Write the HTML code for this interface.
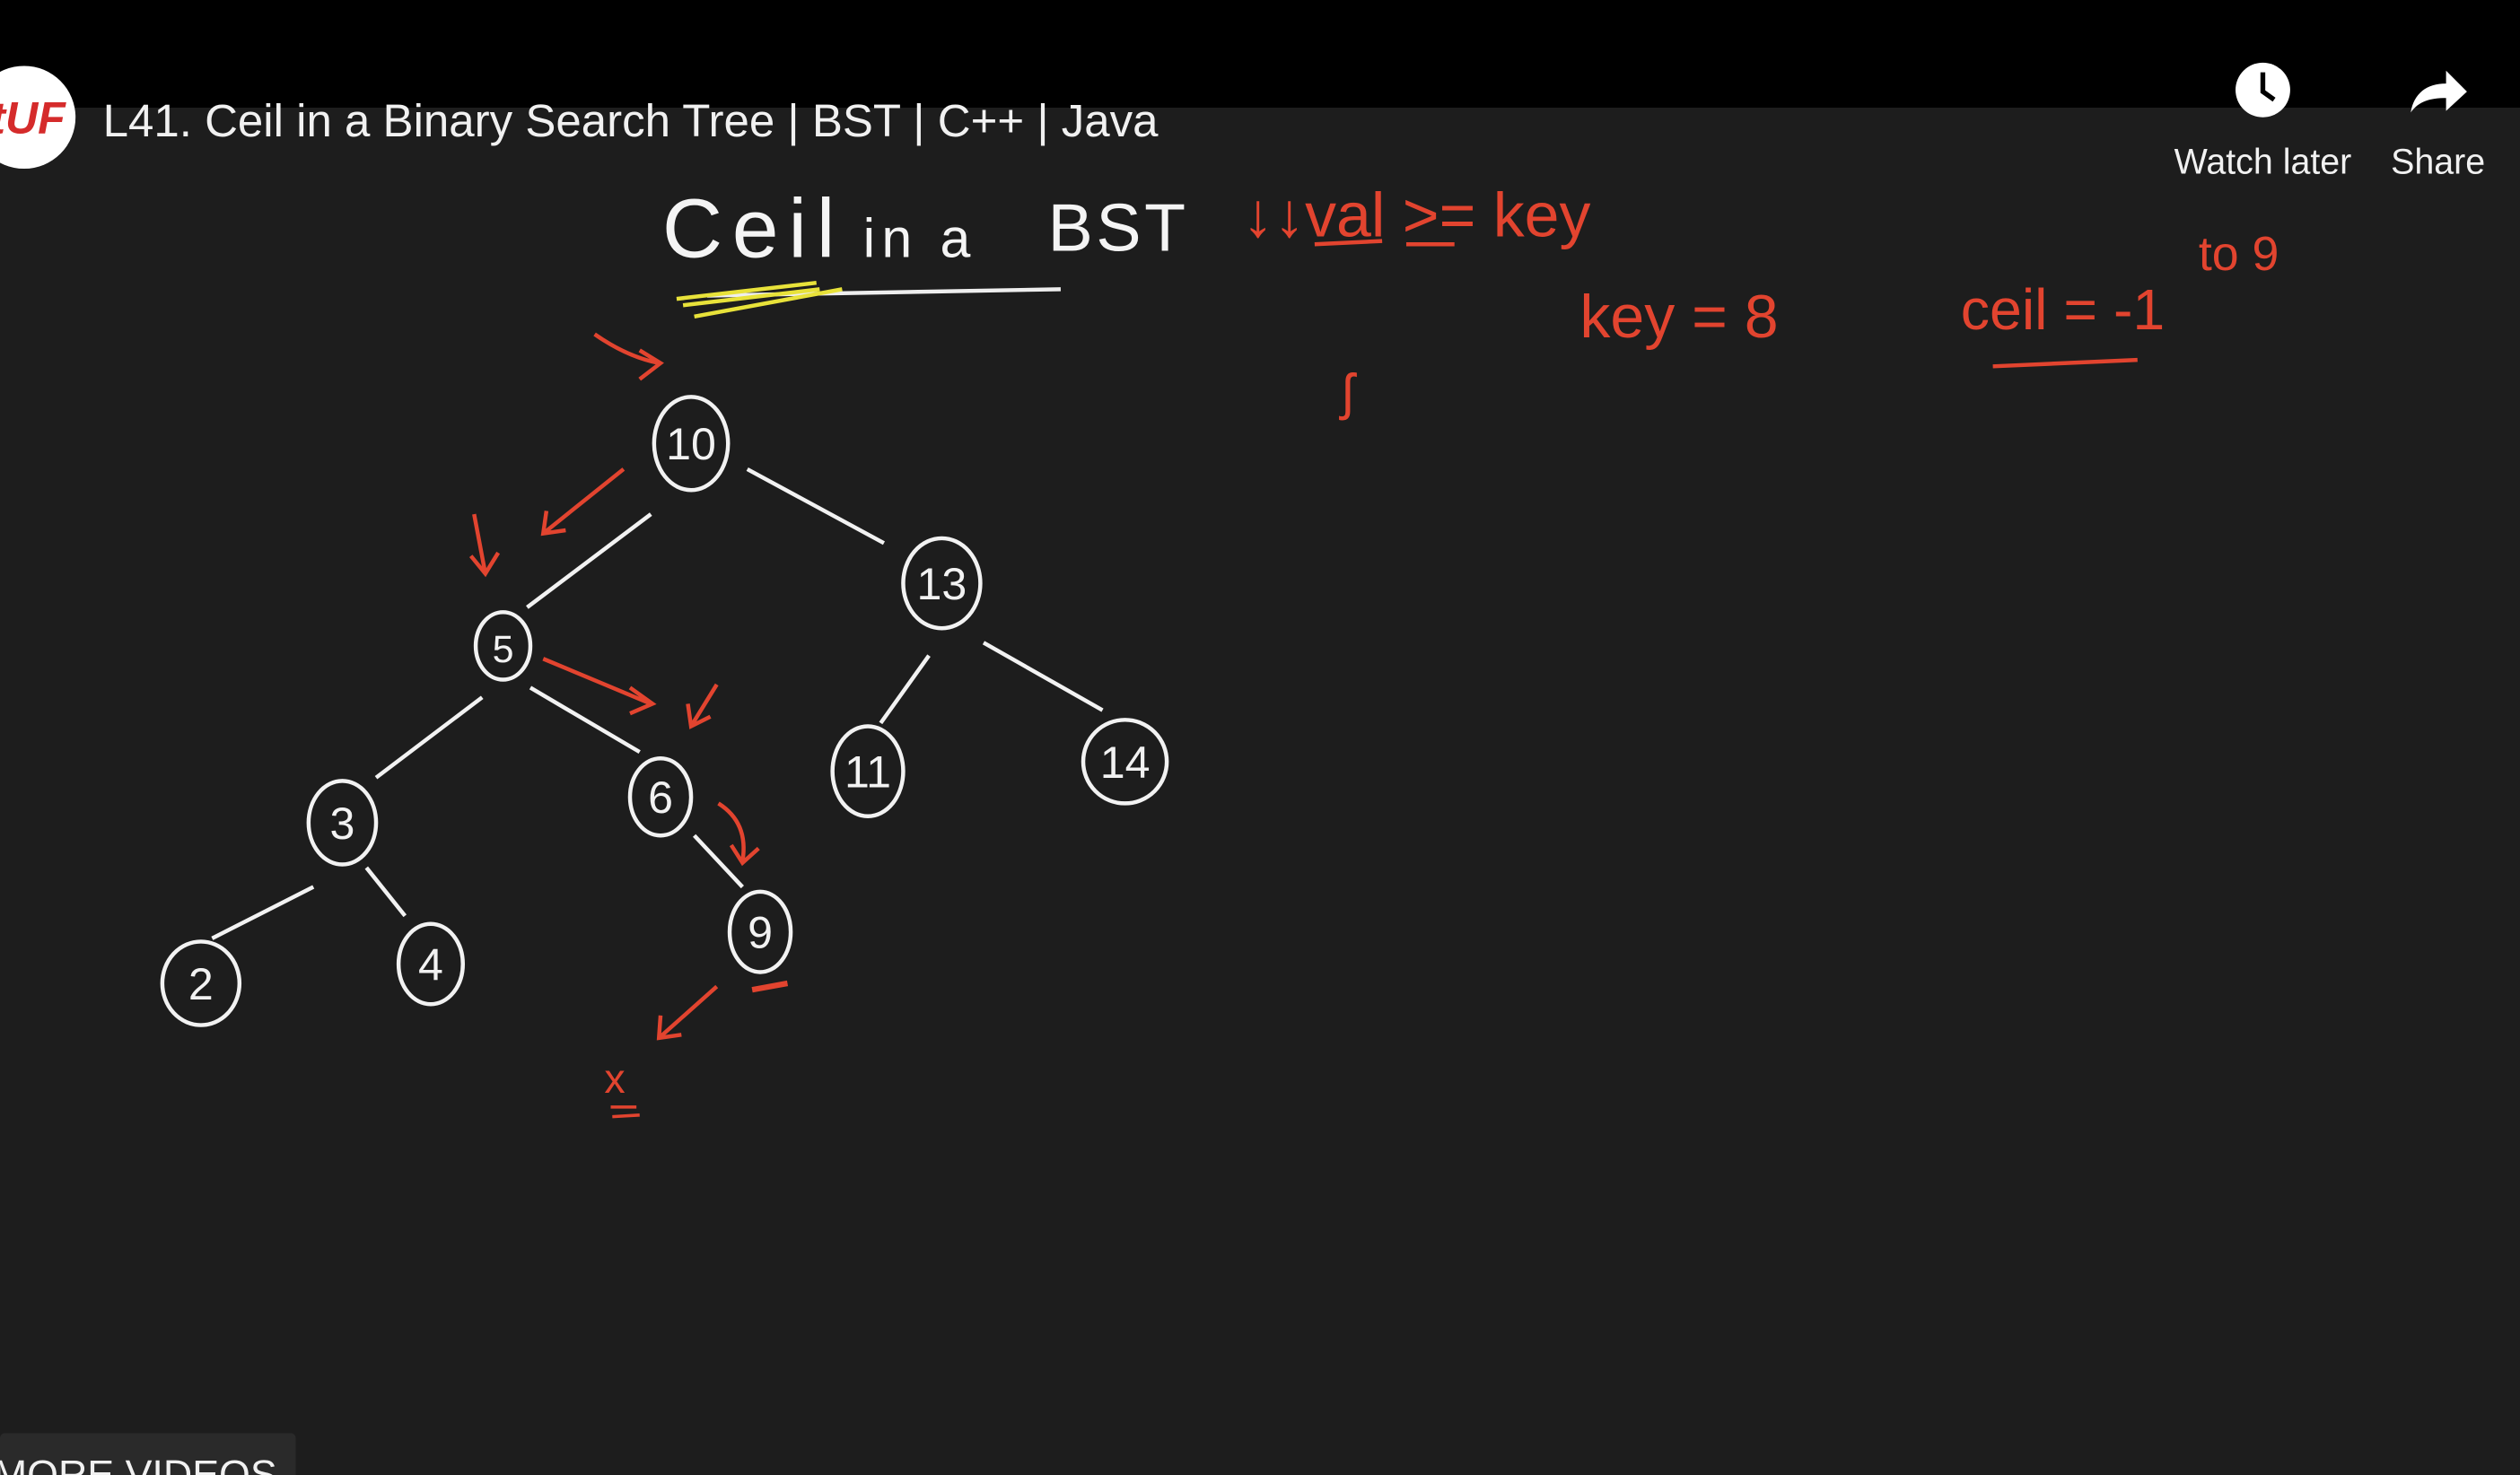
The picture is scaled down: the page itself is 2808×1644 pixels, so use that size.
<!DOCTYPE html>
<html><head><meta charset="utf-8"><style>
html,body{margin:0;padding:0;background:#1d1d1d;overflow:hidden}
svg{display:block}
</style></head><body>
<svg width="2808" height="1644" viewBox="0 0 1568 918" xmlns="http://www.w3.org/2000/svg">
<rect x="0" y="0" width="1568" height="918" fill="#1d1d1d"/>
<rect x="0" y="0" width="1568" height="67" fill="#000"/>
<g>
<circle cx="15" cy="73" r="32" fill="#fff"/>
<text x="-6" y="83" font-family="Liberation Sans,sans-serif" font-weight="bold" font-style="italic" font-size="28" fill="#d52b2b">tUF</text>
</g>
<text x="64" y="85" font-family="Liberation Sans,sans-serif" font-size="28.5" fill="#f1f1f1">L41. Ceil in a Binary Search Tree | BST | C++ | Java</text>
<g>
<circle cx="1408" cy="56" r="17" fill="#fff"/>
<path d="M1408 45 V57 L1415 62" stroke="#000" stroke-width="3" fill="none"/>
<text x="1408" y="108" text-anchor="middle" font-family="Liberation Sans,sans-serif" font-size="22" fill="#f1f1f1">Watch later</text>
</g>
<g>
<path d="M1500 70 C1502 58 1510 52 1522 52 V44 L1535 57 L1522 69 V61 C1512 61 1505 63 1500 70Z" fill="#fff"/>
<text x="1517" y="108" text-anchor="middle" font-family="Liberation Sans,sans-serif" font-size="22" fill="#f1f1f1">Share</text>
</g>

<g>
<text x="412" y="160" font-family="Liberation Sans,sans-serif" font-size="52" fill="#f4f4f4" letter-spacing="6">Ceil</text>
<text x="537" y="160" font-family="Liberation Sans,sans-serif" font-size="34" fill="#f4f4f4" letter-spacing="4">in a</text>
<text x="652" y="156" font-family="Liberation Sans,sans-serif" font-size="42" fill="#f4f4f4" letter-spacing="2">BST</text>
<path d="M440 184 L660 180" stroke="#eee" stroke-width="2.5"/>
<path d="M421 186 L508 176 M432 197 L524 180 M425 190 L510 180" stroke="#e8e23a" stroke-width="2.5" fill="none"/>
</g>

<g fill="#e2442f" font-family="Liberation Sans,sans-serif">
<text x="773" y="147" font-size="39">↓↓val &gt;= key</text>
<path d="M818 152 L860 150 M875 152 L905 152" stroke="#e2442f" stroke-width="2.5"/>
<text x="983" y="210" font-size="38">key = 8</text>
<text x="1220" y="205" font-size="36">ceil = -1</text>
<path d="M1240 228 L1330 224" stroke="#e2442f" stroke-width="2.5"/>
<text x="1368" y="168" font-size="30">to 9</text>
<text x="835" y="255" font-size="32">ʃ</text>
<text x="376" y="680" font-size="26">x</text>
<path d="M380 689 L396 689 M381 695 L398 694" stroke="#e2442f" stroke-width="2"/>
</g>

<g stroke="#e2442f" stroke-width="2.5" fill="none">
<path d="M370 208 Q390 222 410 226 M398 218 L411 226 L398 236"/>
<path d="M388 292 L338 332 M340 318 L338 332 L352 330"/>
<path d="M295 320 L302 357 M293 346 L302 357 L310 344"/>
<path d="M338 410 L405 438 M392 428 L406 438 L392 444"/>
<path d="M446 426 L430 452 M428 438 L430 452 L442 446"/>
<path d="M447 500 Q466 512 462 536 M455 526 L462 537 L472 528"/>
<path d="M446 614 L410 646 M411 632 L410 646 L424 644"/>
<path d="M468 616 L490 612" stroke-width="3.5"/>
</g>

<g stroke="#f2f2f2" stroke-width="2.5" fill="none">
<path d="M465 292 L550 338"/>
<path d="M405 320 L328 378"/>
<path d="M300 434 L234 484"/>
<path d="M330 428 L398 468"/>
<path d="M578 408 L548 450"/>
<path d="M612 400 L686 442"/>
<path d="M195 552 L132 584"/>
<path d="M228 540 L252 570"/>
<path d="M432 520 L462 552"/>
</g>

<g stroke="#f2f2f2" stroke-width="2.5" fill="none">
<ellipse cx="430" cy="276" rx="23" ry="29"/>
<ellipse cx="586" cy="363" rx="24" ry="28"/>
<ellipse cx="313" cy="402" rx="17" ry="21"/>
<ellipse cx="213" cy="512" rx="21" ry="26"/>
<ellipse cx="411" cy="496" rx="19" ry="24"/>
<ellipse cx="540" cy="480" rx="22" ry="28"/>
<ellipse cx="700" cy="474" rx="26" ry="26"/>
<ellipse cx="125" cy="612" rx="24" ry="26"/>
<ellipse cx="268" cy="600" rx="20" ry="25"/>
<ellipse cx="473" cy="580" rx="19" ry="25"/>
</g>
<g fill="#f2f2f2" font-family="Liberation Sans,sans-serif" font-size="28" text-anchor="middle">
<text x="430" y="286">10</text>
<text x="586" y="373">13</text>
<text x="313" y="412" font-size="24">5</text>
<text x="213" y="522">3</text>
<text x="411" y="506">6</text>
<text x="540" y="490">11</text>
<text x="700" y="484">14</text>
<text x="125" y="622">2</text>
<text x="268" y="610">4</text>
<text x="473" y="590">9</text>
</g>

<g>
<rect x="0" y="892" width="184" height="30" rx="3" fill="#2a2a2a"/>
<text x="-4" y="926" font-family="Liberation Sans,sans-serif" font-size="25" fill="#f1f1f1">MORE VIDEOS</text>
</g>
</svg>
</body></html>
